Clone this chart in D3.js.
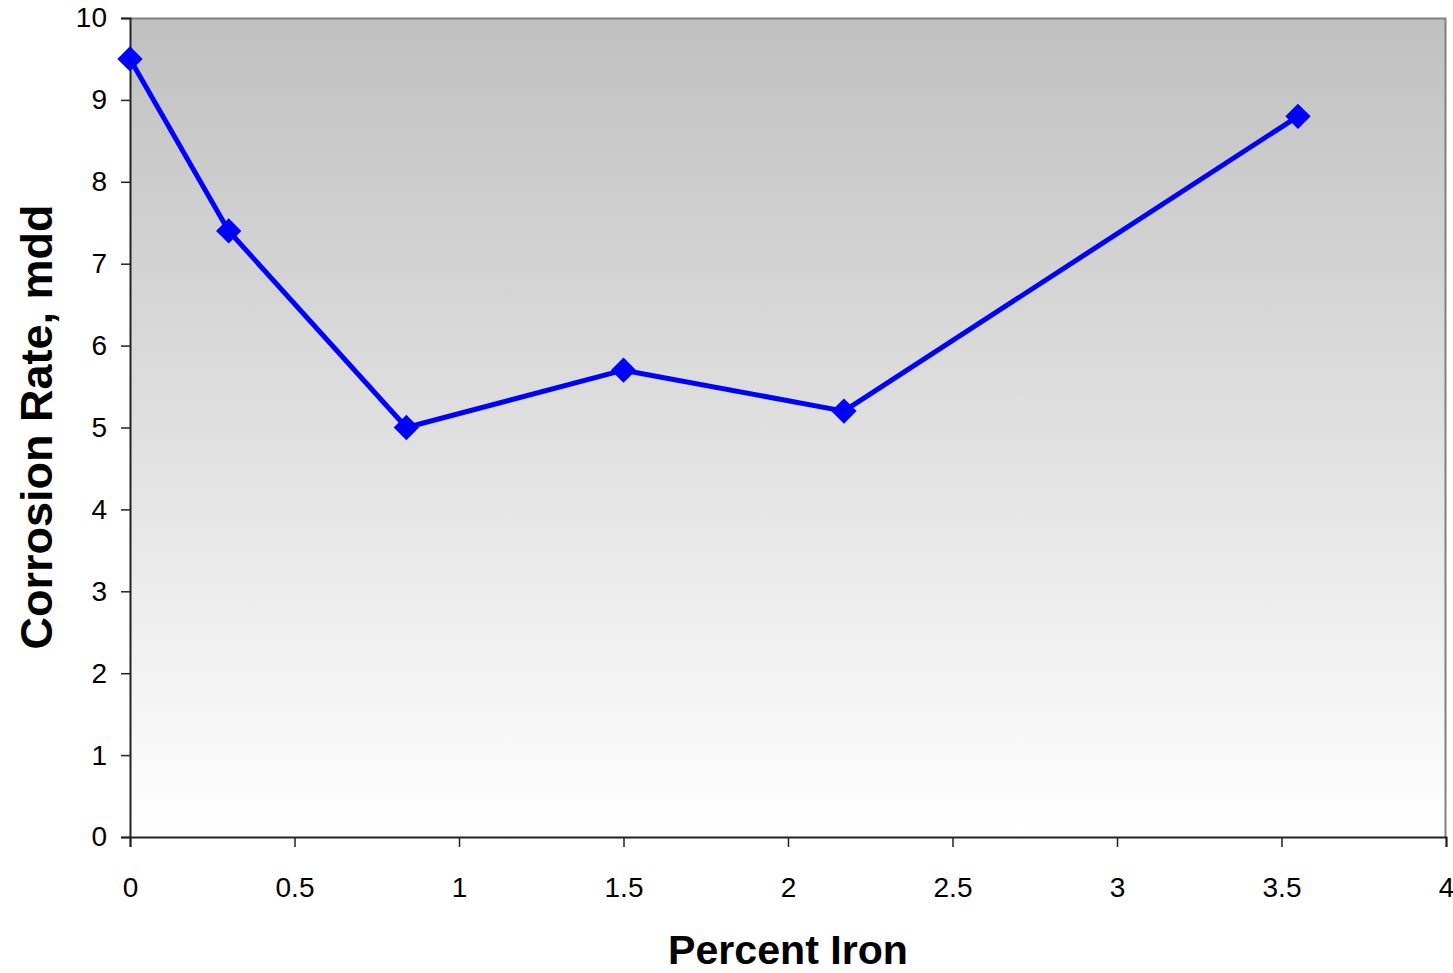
<!DOCTYPE html>
<html>
<head>
<meta charset="utf-8">
<script src="https://cdn.jsdelivr.net/npm/d3@7"></script>
<style>
  body { margin: 0; background: #fff; }
  text { font-family: "Liberation Sans", Arial, sans-serif; }
</style>
</head>
<body>
<svg id="chart" width="1453" height="973"></svg>
<script>
// percent iron vs corrosion rate
const ironPct = [0, 0.3, 0.84, 1.5, 2.17, 3.55];
const corrosion = [9.5, 7.4, 5.0, 5.7, 5.2, 8.8];
const xTicks = [0, 0.5, 1, 1.5, 2, 2.5, 3, 3.5, 4];
const yTicks = [0, 1, 2, 3, 4, 5, 6, 7, 8, 9, 10];

const svg = d3.select("#chart");
const m = {left: 130, top: 18, right: 7, bottom: 136};
const W = 1453 - m.left - m.right, H = 973 - m.top - m.bottom;

const x = d3.scaleLinear().domain([0, 4]).range([0, W]);
const y = d3.scaleLinear().domain([0, 10]).range([H, 0]);

const defs = svg.append("defs");
const grad = defs.append("linearGradient").attr("id", "bg")
  .attr("x1", 0).attr("y1", 0).attr("x2", 0).attr("y2", 1);
grad.append("stop").attr("offset", "0%").attr("stop-color", "#c0c0c0");
grad.append("stop").attr("offset", "100%").attr("stop-color", "#ffffff");

const g = svg.append("g").attr("transform", `translate(${m.left},${m.top})`);

g.append("rect").attr("width", W).attr("height", H).attr("fill", "url(#bg)");
// top & right frame
g.append("path").attr("d", `M0,0.5H${W - 0.5}V${H}`)
  .attr("fill", "none").attr("stroke", "#808080").attr("stroke-width", 2);

const xAxis = g.append("g").attr("transform", `translate(0,${H})`)
  .call(d3.axisBottom(x).tickValues(xTicks).tickSize(10).tickPadding(30)
    .tickFormat(d3.format("")));
const yAxis = g.append("g")
  .call(d3.axisLeft(y).tickValues(yTicks).tickSize(9).tickPadding(14));

[xAxis, yAxis].forEach(a => {
  a.select(".domain").attr("stroke", "#222").attr("stroke-width", 2);
  a.selectAll(".tick line").attr("stroke", "#222").attr("stroke-width", 1.5);
  a.selectAll("text").attr("font-size", 28).attr("fill", "#000")
    .style("font-family", "'Liberation Sans', Arial, sans-serif");
});

const line = d3.line().x((d, i) => x(ironPct[i])).y(d => y(d));
g.append("path").datum(corrosion).attr("d", line)
  .attr("fill", "none").attr("stroke", "#0000ff").attr("stroke-width", 5)
  .attr("stroke-linejoin", "round");

g.selectAll(".pt").data(corrosion).join("path")
  .attr("class", "pt")
  .attr("transform", (d, i) => `translate(${x(ironPct[i])},${y(d)}) rotate(45)`)
  .attr("d", d3.symbol().type(d3.symbolSquare).size(320))
  .attr("fill", "#0000ff");

svg.append("text").attr("x", 788).attr("y", 964)
  .attr("text-anchor", "middle").attr("font-size", 41).attr("font-weight", "bold")
  .attr("textLength", 240).attr("lengthAdjust", "spacingAndGlyphs")
  .text("Percent Iron");

svg.append("text").attr("transform", `translate(52,427) rotate(-90)`)
  .attr("text-anchor", "middle").attr("font-size", 44).attr("font-weight", "bold")
  .attr("textLength", 445).attr("lengthAdjust", "spacingAndGlyphs")
  .text("Corrosion Rate, mdd");
</script>
</body>
</html>
